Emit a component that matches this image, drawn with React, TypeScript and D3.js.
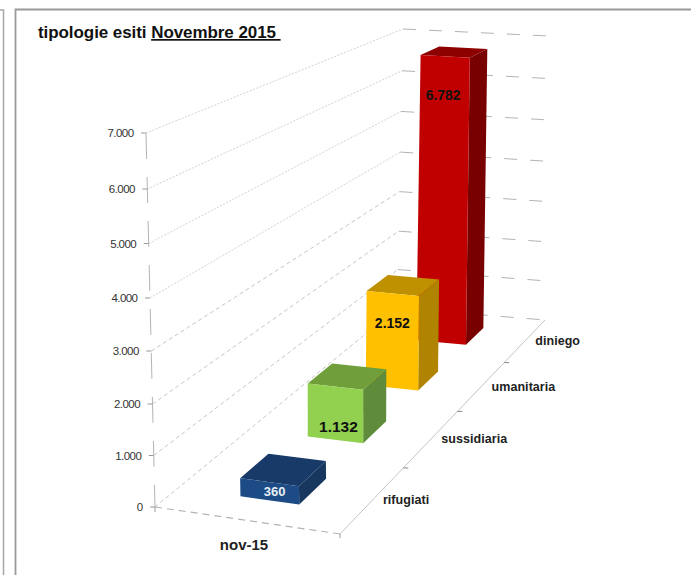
import React from "react";
import * as d3 from "d3";

const categories = ["rifugiati", "sussidiaria", "umanitaria", "diniego"];
const values = [360, 1132, 2152, 6782];
const labels = ["360", "1.132", "2.152", "6.782"];
const period = ["nov-15"];
const tickValues = [0, 1000, 2000, 3000, 4000, 5000, 6000, 7000];
const tickLabels = ["0", "1.000", "2.000", "3.000", "4.000", "5.000", "6.000", "7.000"];
const frontColors = ["#1d4b86", "#92d050", "#ffc000", "#c00000"];
const topColors = ["#173a68", "#6f9e3a", "#bf9000", "#8c0000"];
const sideColors = ["#17375e", "#5f8c3a", "#b08400", "#780000"];
const labelColors = ["#e8eef5", "#111111", "#111111", "#111111"];
const labelSizes = [13, 15.5, 14, 14];

// calibration of the drawn box: [x, y] of the corners (front-left, front-right, back-right, back-left)
type P = [number, number];
const floorCorners: P[] = [[155, 507], [340, 534], [545, 320], [397, 308]];
const ceilCorners: P[] = [[146, 133], [333, 152], [549, 36], [403, 29]];
const tickPixels = [507, 455.5, 404, 351, 298, 243.5, 189, 133];
const labelFractions = [0.5, 0.75, 0.31, 0.135];
const labelShifts = [5, 3, 0, 0];

function homography(q: P[]) {
  const [[x0, y0], [x1, y1], [x2, y2], [x3, y3]] = q;
  const dx1 = x1 - x2, dx2 = x3 - x2, sx = x0 - x1 + x2 - x3;
  const dy1 = y1 - y2, dy2 = y3 - y2, sy = y0 - y1 + y2 - y3;
  const det = dx1 * dy2 - dx2 * dy1;
  const g = (sx * dy2 - dx2 * sy) / det;
  const h = (dx1 * sy - sx * dy1) / det;
  const a = x1 - x0 + g * x1, b = x3 - x0 + h * x3;
  const d = y1 - y0 + g * y1, e = y3 - y0 + h * y3;
  return (u: number, v: number): P => {
    const w = 1 + g * u + h * v;
    return [(x0 + a * u + b * v) / w, (y0 + d * u + e * v) / w];
  };
}

const floorMap = homography(floorCorners);
const ceilMap = homography(ceilCorners);
const tScale = d3.scaleLinear<number, number>()
  .domain(tickValues)
  .range(tickPixels.map((p) => (tickPixels[0] - p) / (tickPixels[0] - tickPixels[7])));
const depth = d3.scaleBand<string>().domain(categories).range([0, 1]).paddingInner(0.6).paddingOuter(0.3);
const across = d3.scaleBand<string>().domain(period).range([0.03, 1]).paddingInner(0).paddingOuter(1);

function project(u: number, v: number, value: number): P {
  const t = tScale(value);
  const f = floorMap(u, v);
  const c = ceilMap(u, v);
  return [f[0] + (c[0] - f[0]) * t, f[1] + (c[1] - f[1]) * t];
}

const path = d3.line<P>();
const poly = (pts: P[]) => path(pts)! + "Z";
const FONT = "'Liberation Sans', Arial, sans-serif";

export default function App() {
  const u0 = across(period[0])!;
  const u1 = u0 + across.bandwidth();
  const order = d3.range(categories.length).reverse();
  const catTicks = d3.range(1, categories.length).map((i) => i / categories.length);
  const axisTop = project(0, 0, 7000);
  const axisBottom = project(0, 0, 0);
  return (
    <svg width={691} height={575} style={{ position: "fixed", left: 0, top: 0, background: "#fff" }}>
      {/* frames */}
      <path d="M0,10H3.5V575" fill="none" stroke="#a8a8a8" strokeWidth={1.5} />
      <path d="M15.5,575V9.5H691" fill="none" stroke="#9a9a9a" strokeWidth={1.8} />

      <text x={38} y={38} fontFamily={FONT} fontWeight="bold" fontSize={17} letterSpacing={-0.07} fill="#111" xmlSpace="preserve">
        tipologie esiti <tspan textDecoration="underline">Novembre 2015 </tspan>
      </text>

      {/* walls */}
      {tickValues.map((t, i) => {
        const a = project(0, 0, t), b = project(0, 1, t), c = project(1, 1, t);
        return (
          <g key={t}>
            <line x1={a[0]} y1={a[1]} x2={b[0]} y2={b[1]} stroke={i > 3 ? "#d2d2d2" : "#c6c6c6"} strokeWidth={1}
              strokeDasharray={i > 3 ? "2 1.5" : "4 3"} />
            <line x1={b[0]} y1={b[1]} x2={c[0]} y2={c[1]} stroke="#b4b4b4" strokeWidth={1}
              strokeDasharray="13 13" />
            <line x1={a[0] - 5} y1={a[1]} x2={a[0]} y2={a[1]} stroke="#999" />
            <text x={a[0] - 12.5} y={a[1] + 4} textAnchor="end" fontFamily={FONT} fontSize={11.5} letterSpacing={-0.55} fill="#333">
              {tickLabels[i]}
            </text>
          </g>
        );
      })}
      <line x1={axisTop[0]} y1={axisTop[1]} x2={axisBottom[0]} y2={axisBottom[1]} stroke="#b4b4b4" strokeDasharray="26 18" />

      {/* floor edges */}
      {(() => {
        const o = project(0, 0, 0), x = project(1, 0, 0), r = project(1, 1, 0);
        return (
          <g>
            <line x1={o[0]} y1={o[1]} x2={x[0]} y2={x[1]} stroke="#b4b4b4" strokeWidth={1.2} strokeDasharray="7 5" />
            <line x1={x[0]} y1={x[1]} x2={r[0]} y2={r[1]} stroke="#c4c4c4" strokeWidth={1} />
            <line x1={x[0]} y1={x[1]} x2={x[0]} y2={x[1] + 4} stroke="#999" />
            <line x1={o[0]} y1={o[1]} x2={o[0]} y2={o[1] + 5} stroke="#999" />
            {catTicks.map((v) => {
              const p = project(1, v, 0);
              return <line key={v} x1={p[0]} y1={p[1]} x2={p[0] + 5} y2={p[1]} stroke="#888" />;
            })}
          </g>
        );
      })()}

      {/* bars, back to front */}
      {order.map((i) => {
        const v0 = depth(categories[i])!;
        const v1 = v0 + depth.bandwidth();
        const val = values[i];
        const fl = project(u0, v0, 0), fr = project(u1, v0, 0), br = project(u1, v1, 0);
        const tfl = project(u0, v0, val), tfr = project(u1, v0, val), tbr = project(u1, v1, val), tbl = project(u0, v1, val);
        const lx = (tfl[0] + tfr[0] + fl[0] + fr[0]) / 4 + labelShifts[i];
        const ly = (tfl[1] + tfr[1]) / 2 + labelFractions[i] * ((fl[1] + fr[1]) / 2 - (tfl[1] + tfr[1]) / 2);
        return (
          <g key={categories[i]}>
            <path d={poly([tfr, tbr, br, fr])} fill={sideColors[i]} />
            <path d={poly([tfl, tbl, tbr, tfr])} fill={topColors[i]} />
            <path d={poly([tfl, tfr, fr, fl])} fill={frontColors[i]} />
            <text x={lx} y={ly + 5} textAnchor="middle" fontFamily={FONT} fontWeight="bold" fontSize={labelSizes[i]} fill={labelColors[i]}>
              {labels[i]}
            </text>
          </g>
        );
      })}

      {/* category labels */}
      {categories.map((c) => {
        const v = depth(c)! + depth.bandwidth() / 2;
        const p = project(1, v, 0);
        return (
          <text key={c} x={p[0] + 10} y={p[1] + 4.5} fontFamily={FONT} fontWeight="bold" fontSize={12.5} letterSpacing={0.05} fill="#222">
            {c}
          </text>
        );
      })}
      <text x={244} y={550} textAnchor="middle" fontFamily={FONT} fontWeight="bold" fontSize={15} fill="#222">
        {period[0]}
      </text>
    </svg>
  );
}
